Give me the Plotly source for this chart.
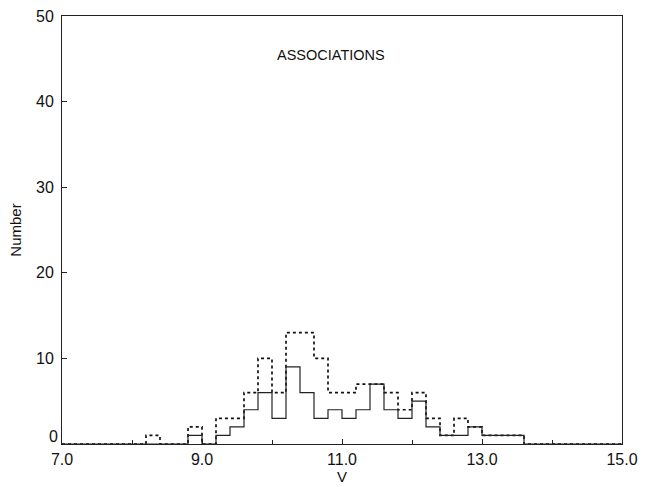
import plotly.graph_objects as go

# Lower edges of the 0.2-mag bins that hold stars (V from 8.2 to 13.4)
bin_lo = [8.2, 8.4, 8.6, 8.8, 9.0, 9.2, 9.4, 9.6, 9.8, 10.0, 10.2, 10.4, 10.6,
          10.8, 11.0, 11.2, 11.4, 11.6, 11.8, 12.0, 12.2, 12.4, 12.6, 12.8,
          13.0, 13.2, 13.4]
bin_width = 0.2

# All association stars (dotted histogram)
n_all = [1, 0, 0, 2, 0, 3, 3, 6, 10, 6, 13, 13, 10,
         6, 6, 7, 7, 6, 4, 6, 3, 1, 3, 2,
         1, 1, 1]
# Subsample (solid histogram)
n_sub = [0, 0, 0, 1, 0, 1, 2, 4, 6, 3, 9, 6, 3,
         4, 3, 4, 7, 4, 3, 5, 2, 1, 1, 2,
         1, 1, 1]

x_min, x_max = 7.0, 15.0
y_min, y_max = 0, 50
x_ticks = [7.0, 9.0, 11.0, 13.0, 15.0]
y_ticks = [0, 10, 20, 30, 40, 50]


def step_xy(lo, counts):
    xs = [x_min] + list(lo) + [round(lo[-1] + bin_width, 1), x_max]
    ys = [0] + list(counts) + [0, 0]
    return xs, ys


FONT = "Liberation Sans, Arial, Helvetica, sans-serif"
INK = "#111111"

fig = go.Figure()
xa, ya = step_xy(bin_lo, n_all)
fig.add_trace(go.Scatter(x=xa, y=ya, mode="lines", line_shape="hv",
                         line=dict(color=INK, width=1.7, dash="dot"),
                         showlegend=False))
xs, ys = step_xy(bin_lo, n_sub)
fig.add_trace(go.Scatter(x=xs, y=ys, mode="lines", line_shape="hv",
                         line=dict(color="#222222", width=1.2),
                         showlegend=False))

axis_common = dict(showline=True, linecolor="#222222", linewidth=1, mirror=True,
                   showgrid=False, zeroline=False, ticks="inside", ticklen=5,
                   tickcolor="#222222", automargin=False,
                   tickfont=dict(family=FONT, size=16, color=INK))

fig.update_xaxes(range=[x_min, x_max], tickvals=x_ticks,
                 ticktext=[f"{v:.1f}" for v in x_ticks],
                 ticklabelstandoff=1,
                 minor=dict(dtick=1, tick0=7, ticks="inside", ticklen=4,
                            tickcolor="#222222"),
                 title=dict(text="V", font=dict(family=FONT, size=15, color=INK),
                            standoff=2),
                 **axis_common)
# the "0" label sits raised above the corner, so it is placed separately
fig.update_yaxes(range=[y_min, y_max], tickvals=y_ticks,
                 ticktext=["" if v == 0 else str(v) for v in y_ticks],
                 ticklabelstandoff=4,
                 title=dict(text="Number", font=dict(family=FONT, size=15, color=INK),
                            standoff=10),
                 **axis_common)

fig.add_annotation(text="0", xref="paper", yref="y", x=0, y=0,
                   xanchor="right", yanchor="middle", xshift=-2, yshift=8,
                   showarrow=False, font=dict(family=FONT, size=16, color=INK))

fig.add_annotation(text="ASSOCIATIONS", xref="paper", yref="paper",
                   x=0.481, y=0.932, showarrow=False,
                   font=dict(family=FONT, size=14.5, color=INK))

fig.update_layout(width=646, height=487,
                  margin=dict(l=62, r=24, t=16, b=43),
                  paper_bgcolor="white", plot_bgcolor="white")

fig.write_html("out.html")
